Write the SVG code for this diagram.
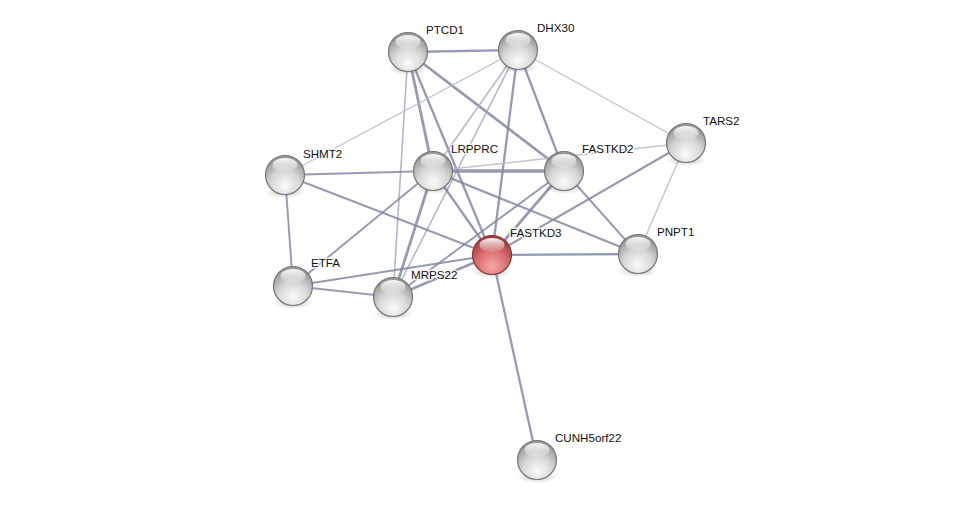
<svg xmlns="http://www.w3.org/2000/svg" width="975" height="505" viewBox="0 0 975 505">
<style>
  .e{stroke:#7f85a2;stroke-opacity:0.82;fill:none;stroke-linecap:round}
  .w4{stroke-width:3.4}
  .w3{stroke-width:2.8}
  .w25{stroke-width:2.3}
  .w2{stroke-width:1.9}
  .lt{stroke:#b9bdcf;stroke-width:1.4;stroke-opacity:0.9}
  .lt2{stroke:#a3a8bd;stroke-width:1.6}
  .lbl{font-family:"Liberation Sans",Arial,sans-serif;font-size:11.6px;fill:#111;stroke:#fff;stroke-width:3;stroke-opacity:0.8;paint-order:stroke;stroke-linejoin:round}
</style>
<defs>
  <radialGradient id="gb" cx="50%" cy="78%" r="70%">
    <stop offset="0" stop-color="#fbfbfb"/>
    <stop offset="0.55" stop-color="#d6d6d6"/>
    <stop offset="1" stop-color="#989898"/>
  </radialGradient>
  <radialGradient id="rb" cx="50%" cy="78%" r="70%">
    <stop offset="0" stop-color="#f8a8a9"/>
    <stop offset="0.55" stop-color="#db6f71"/>
    <stop offset="1" stop-color="#a33c3e"/>
  </radialGradient>
  <linearGradient id="hl" x1="0" y1="0" x2="0" y2="1">
    <stop offset="0" stop-color="#fff" stop-opacity="0.95"/>
    <stop offset="1" stop-color="#fff" stop-opacity="0.1"/>
  </linearGradient>
  <radialGradient id="sh" cx="50%" cy="50%" r="50%">
    <stop offset="0" stop-color="#000" stop-opacity="0.25"/>
    <stop offset="1" stop-color="#000" stop-opacity="0"/>
  </radialGradient>
  <g id="ball">
    <ellipse cx="0" cy="17" rx="20" ry="6" fill="url(#sh)"/>
    <circle r="19.5" fill="url(#gb)" stroke="#777" stroke-width="1.2"/>
    <ellipse cx="0" cy="-10" rx="12.5" ry="7" fill="url(#hl)"/>
  </g>
  <g id="rball">
    <ellipse cx="0" cy="17" rx="20" ry="6" fill="url(#sh)"/>
    <circle r="19.5" fill="url(#rb)" stroke="#8a3a3c" stroke-width="1.2"/>
    <ellipse cx="0" cy="-10" rx="12.5" ry="7" fill="url(#hl)"/>
  </g>
</defs>
<rect width="975" height="505" fill="#fff"/>
<g id="edges">
  <line class="e w25" x1="408" y1="52" x2="518" y2="50"/>
  <line class="e lt2" x1="408" y1="52" x2="393" y2="297"/>
  <line class="e w3" x1="408" y1="52" x2="433" y2="171"/>
  <line class="e w25" x1="408" y1="52" x2="492" y2="255"/>
  <line class="e w3" x1="408" y1="52" x2="564" y2="171"/>
  <line class="e lt" x1="518" y1="50" x2="686" y2="143"/>
  <line class="e lt" x1="518" y1="50" x2="285" y2="175"/>
  <line class="e lt2" x1="518" y1="50" x2="433" y2="171"/>
  <line class="e lt2" x1="518" y1="50" x2="393" y2="297"/>
  <line class="e w25" x1="518" y1="50" x2="492" y2="255"/>
  <line class="e w25" x1="518" y1="50" x2="564" y2="171"/>
  <line class="e w2" x1="285" y1="175" x2="433" y2="171"/>
  <line class="e w2" x1="285" y1="175" x2="492" y2="255"/>
  <line class="e w2" x1="285" y1="175" x2="293" y2="286"/>
  <line class="e w4" x1="433" y1="171" x2="564" y2="171"/>
  <line class="e lt" x1="433" y1="171" x2="686" y2="143"/>
  <line class="e w25" x1="433" y1="171" x2="492" y2="255"/>
  <line class="e w25" x1="433" y1="171" x2="638" y2="254"/>
  <line class="e w2" x1="433" y1="171" x2="293" y2="286"/>
  <line class="e w3" x1="433" y1="171" x2="393" y2="297"/>
  <line class="e w3" x1="564" y1="171" x2="492" y2="255"/>
  <line class="e w2" x1="564" y1="171" x2="393" y2="297"/>
  <line class="e w2" x1="564" y1="171" x2="638" y2="254"/>
  <line class="e w25" x1="492" y1="255" x2="638" y2="254"/>
  <line class="e w25" x1="492" y1="255" x2="686" y2="143"/>
  <line class="e w25" x1="492" y1="255" x2="537" y2="460"/>
  <line class="e w3" x1="492" y1="255" x2="393" y2="297"/>
  <line class="e w2" x1="492" y1="255" x2="293" y2="286"/>
  <line class="e lt" x1="686" y1="143" x2="638" y2="254"/>
  <line class="e w2" x1="293" y1="286" x2="393" y2="297"/>
</g>
<g id="PTCD1"><use href="#ball" x="408" y="52"/><text class="lbl" x="426" y="34">PTCD1</text></g>
<g id="DHX30"><use href="#ball" x="518" y="50"/><text class="lbl" x="537" y="32">DHX30</text></g>
<g id="TARS2"><use href="#ball" x="686" y="143"/><text class="lbl" x="703" y="125">TARS2</text></g>
<g id="SHMT2"><use href="#ball" x="285" y="175"/><text class="lbl" x="303" y="158">SHMT2</text></g>
<g id="LRPPRC"><use href="#ball" x="433" y="171"/><text class="lbl" x="451" y="153">LRPPRC</text></g>
<g id="FASTKD2"><use href="#ball" x="564" y="171"/><text class="lbl" x="582" y="153">FASTKD2</text></g>
<g id="PNPT1"><use href="#ball" x="638" y="254"/><text class="lbl" x="657" y="236">PNPT1</text></g>
<g id="ETFA"><use href="#ball" x="293" y="286"/><text class="lbl" x="311" y="267">ETFA</text></g>
<g id="MRPS22"><use href="#ball" x="393" y="297"/><text class="lbl" x="411" y="279">MRPS22</text></g>
<g id="CUNH5orf22"><use href="#ball" x="537" y="460"/><text class="lbl" x="555" y="442">CUNH5orf22</text></g>
<g id="FASTKD3"><use href="#rball" x="492" y="255"/><text class="lbl" x="510" y="237">FASTKD3</text></g>
</svg>
